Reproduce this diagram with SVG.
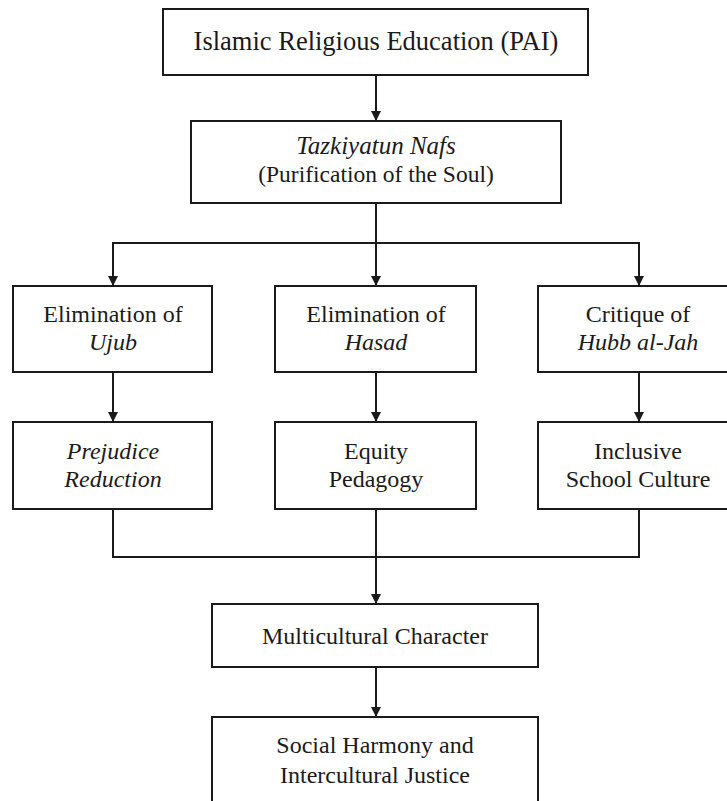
<svg xmlns="http://www.w3.org/2000/svg" width="727" height="801" viewBox="0 0 727 801">
<style>
.box{fill:#ffffff;stroke:#1a1a1a;stroke-width:2}
.t{font-family:'Liberation Serif', 'Times New Roman', Times, serif;font-size:24px;fill:#1a1a1a;text-anchor:middle}
.i{font-style:italic}
.c{fill:none;stroke:#1a1a1a;stroke-width:2}
</style>
<defs>
<marker id="ad" markerUnits="userSpaceOnUse" markerWidth="11" markerHeight="10" refX="10" refY="5" orient="auto" viewBox="0 0 11 10">
<path d="M0,0 L10,5 L0,10 Z" fill="#1a1a1a"/>
</marker>
</defs>
<rect width="727" height="801" fill="#ffffff"/>
<g id="connectors">
<line class="c" x1="376" y1="75" x2="376" y2="121" marker-end="url(#ad)"/>
<polyline class="c" points="376,203 376,243"/>
<polyline class="c" points="113,285 113,243 639,243 639,285"/>
<line class="c" x1="113" y1="243" x2="113" y2="286" marker-end="url(#ad)"/>
<line class="c" x1="376" y1="243" x2="376" y2="286" marker-end="url(#ad)"/>
<line class="c" x1="639" y1="243" x2="639" y2="286" marker-end="url(#ad)"/>
<line class="c" x1="113" y1="372" x2="113" y2="422" marker-end="url(#ad)"/>
<line class="c" x1="376" y1="372" x2="376" y2="422" marker-end="url(#ad)"/>
<line class="c" x1="639" y1="372" x2="639" y2="422" marker-end="url(#ad)"/>
<polyline class="c" points="113,509 113,557 639,557 639,509"/>
<line class="c" x1="376" y1="509" x2="376" y2="557"/>
<line class="c" x1="376" y1="557" x2="376" y2="604" marker-end="url(#ad)"/>
<line class="c" x1="376" y1="667" x2="376" y2="717" marker-end="url(#ad)"/>
</g>
<g id="n-pai">
<rect class="box" x="163" y="9" width="425" height="66"/>
<text class="t" x="376" y="50" style="font-size:26.5px">Islamic Religious Education (PAI)</text>
</g>
<g id="n-tazkiyatun">
<rect class="box" x="191" y="121" width="370" height="82"/>
<text class="t i" x="376" y="154" style="font-size:25px">Tazkiyatun Nafs</text>
<text class="t" x="376" y="182" style="font-size:23.5px">(Purification of the Soul)</text>
</g>
<g id="n-ujub">
<rect class="box" x="13" y="286" width="199" height="86"/>
<text class="t" x="113" y="322">Elimination of</text>
<text class="t i" x="113" y="350">Ujub</text>
</g>
<g id="n-hasad">
<rect class="box" x="275" y="286" width="201" height="86"/>
<text class="t" x="376" y="322">Elimination of</text>
<text class="t i" x="376" y="350">Hasad</text>
</g>
<g id="n-hubb">
<rect class="box" x="538" y="286" width="202" height="86"/>
<text class="t" x="638" y="322">Critique of</text>
<text class="t i" x="638" y="350">Hubb al-Jah</text>
</g>
<g id="n-prejudice">
<rect class="box" x="13" y="422" width="199" height="87"/>
<text class="t i" x="113" y="459">Prejudice</text>
<text class="t i" x="113" y="487">Reduction</text>
</g>
<g id="n-equity">
<rect class="box" x="275" y="422" width="201" height="87"/>
<text class="t" x="376" y="459">Equity</text>
<text class="t" x="376" y="487">Pedagogy</text>
</g>
<g id="n-inclusive">
<rect class="box" x="538" y="422" width="202" height="87"/>
<text class="t" x="638" y="459">Inclusive</text>
<text class="t" x="638" y="487">School Culture</text>
</g>
<g id="n-multicultural">
<rect class="box" x="212" y="604" width="326" height="63"/>
<text class="t" x="375" y="644">Multicultural Character</text>
</g>
<g id="n-harmony">
<rect class="box" x="212" y="717" width="326" height="95"/>
<text class="t" x="375" y="753">Social Harmony and</text>
<text class="t" x="375" y="783">Intercultural Justice</text>
</g>
</svg>
